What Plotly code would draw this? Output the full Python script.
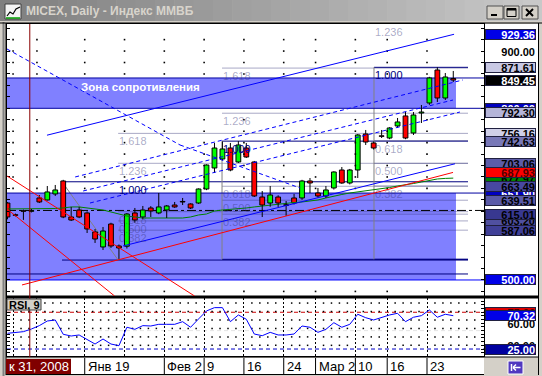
import plotly.graph_objects as go

W, H = 542, 376
FONT = "Liberation Sans"

# ---------------- data ----------------
dates = ["2008-12-26", "2008-12-29", "2008-12-30", "2008-12-31",
         "2009-01-11", "2009-01-12", "2009-01-13", "2009-01-14", "2009-01-15", "2009-01-16",
         "2009-01-19", "2009-01-20", "2009-01-21", "2009-01-22", "2009-01-23",
         "2009-01-26", "2009-01-27", "2009-01-28", "2009-01-29", "2009-01-30",
         "2009-02-02", "2009-02-03", "2009-02-04", "2009-02-05", "2009-02-06",
         "2009-02-09", "2009-02-10", "2009-02-11", "2009-02-12", "2009-02-13",
         "2009-02-16", "2009-02-17", "2009-02-18", "2009-02-19", "2009-02-20",
         "2009-02-24", "2009-02-25", "2009-02-26", "2009-02-27",
         "2009-03-02", "2009-03-03", "2009-03-04", "2009-03-05", "2009-03-06",
         "2009-03-10", "2009-03-11", "2009-03-12", "2009-03-13",
         "2009-03-16", "2009-03-17", "2009-03-18", "2009-03-19", "2009-03-20",
         "2009-03-23", "2009-03-24", "2009-03-25", "2009-03-26"]

opens = [634.5, 614, 621, 620, 643.3, 639.8, 650.3, 673, 610.1, 622.3,
         617.1, 583.9, 557.7, 597.8, 559.4, 559, 617.1, 610.1, 625.8, 617.1,
         622.3, 631, 636.5, 632.8, 634.5, 659, 695.7, 711.4, 730.6, 706.2,
         730.6, 706.2, 645, 634.5, 645, 631, 643.3, 643.3, 673, 652,
         646.8, 660.8, 692.2, 669.5, 692.2, 755.1, 739.4, 751.6, 748.1, 769.1,
         786.6, 756.9, 791.8, 809.3, 866.9, 818, 852]
highs = [636, 616, 623, 624, 648.5, 664.2, 666, 675, 627.6, 627.6,
         620, 589.1, 592.6, 600, 562, 617, 625.8, 629.3, 629, 652,
         631, 636.3, 643.3, 634, 660, 702, 739.4, 742, 739.4, 742.6,
         739.4, 708, 655.5, 664.2, 648, 638, 650.3, 675, 678.2, 660.8,
         664.2, 690, 697.4, 694, 755, 762.1, 742, 762.1, 767, 783.1,
         793.5, 793.5, 805.8, 855, 871.6, 861.7, 865.2]
lows = [606, 611, 605, 618, 634.5, 639, 646.8, 608, 603, 608,
        582.1, 564.7, 552.4, 556, 536.7, 555, 600, 606, 610.1, 615,
        608.3, 626, 631, 624, 633, 657, 687, 709, 690, 704.4,
        713.2, 645, 610, 628, 627.6, 612, 632, 640, 652, 644,
        643.3, 658, 668, 667, 678.2, 735.9, 728, 748.1, 746, 766,
        746, 753.4, 774.3, 806, 811, 814.5, 846]
closes = [610.1, 613, 620, 621, 636.3, 653.8, 657.3, 610.1, 604.8, 610.1,
          589.1, 571.6, 585.6, 559.4, 555.9, 615.3, 604.8, 622.3, 620.6, 627.6,
          629.3, 627.6, 636.3, 625.8, 659, 700.9, 730.6, 728.9, 692.2, 735.9,
          714.9, 646.8, 631, 648.5, 634.5, 630.5, 634.5, 673, 669.5, 646.8,
          657.3, 688.7, 669.5, 692.2, 753.4, 741.1, 730.6, 751, 765.6, 776.1,
          748.1, 788.3, 793.5, 853, 818, 854.7, 849.45]
ma_line = [624.1, 624.1, 624.1, 624.1, 624.1, 624.1, 624.9, 625.8, 627.6, 627.6,
           625.8, 624.1, 622.3, 618.8, 615.3, 611.8, 610.1, 608.3, 608.3, 608.3,
           608.3, 608.3, 608.3, 610.1, 613.6, 615.3, 620.6, 622.3, 623.2, 624.1,
           625.8, 627.6, 629.3, 631.0, 632.8, 634.5, 635.4, 636.3, 638.0, 639.8,
           643.3, 646.8, 649.4, 652.0, 653.8, 656.4, 658.1, 659.9, 661.6, 664.2,
           666.0, 668.6, 671.2, 673.9, 676.5, 677.5, 678.0]
rsi9 = [46.4, 47.7, 48.6, 52.2, 56.8, 63.1, 64.5, 45.0, 42.7, 44.1,
        38.2, 31.8, 38.6, 31.8, 29.5, 54.6, 51.8, 56.8, 56.3, 58.6,
        58.6, 58.6, 62.2, 54.6, 65.9, 76.8, 81.3, 81.3, 62.2, 71.3,
        65.5, 45.4, 43.1, 47.7, 44.1, 44.1, 45.4, 56.3, 54.6, 47.7,
        51.8, 60.8, 54.6, 58.6, 72.3, 67.6, 64.5, 68.2, 71.3, 73.6,
        62.2, 68.2, 70.4, 78.1, 68.2, 72.3, 70.32]

week_starts = [1, 4, 10, 15, 20, 25, 30, 35, 39, 44, 48, 53]
week_labels = ["", "", "Янв 19", "", "Фев 2", "9", "16", "24", "Мар 2", "10", "16", "23"]
cursor_bar = 3
cursor_label = "к 31, 2008"

zone_res = [800.0, 853.0]
zone_sup = [500.0, 651.9]
support_line = 510.5
dashdot_level = 621.5

fib_ratios = [0.0, 0.382, 0.5, 0.618, 1.0, 1.236, 1.618]
fib_low = [534.8, 536.1, 536.1]
fib_high = [671.6, 742.63, 871.61]
fib_bar = [13.9, 26.95, 46.04]
fib_hi_bar = [6.85, 26.95, 46.04]

# trend lines: start bar, start price, end bar, end price
tl_x0 = [4.96, 8.5, 9.5, 10.36, 14.51, 1.82, -0.06, -0.06, -0.06, 21.67]
tl_y0 = [753.0, 680.0, 655.5, 634.5, 559.4, 491.3, 681.7, 624.1, 903.6, 735.9]
tl_x1 = [56.1, 57.2, 55.97, 56.84, 56.22, 55.97, 23.5, 13.45, 21.67, 36.75]
tl_y1 = [929.36, 849.5, 814.5, 793.5, 703.06, 687.93, 472.0, 472.0, 735.9, 660.8]
tl_kind = ["blue", "bluedash", "bluedash", "bluedash", "blue", "red", "red", "red", "bluedash", "bluedash"]

price_labels = [651.90, 800.00, 677.97, 603.20, 756.16, 929.36, 900.00, 871.61, 849.45, 792.30,
                742.63, 703.06, 687.93, 663.49, 639.51, 615.01, 587.06, 500.00]
price_label_bg = ["#0000c0", "#0000c0", "#008000", "#5050a0", "#d0d0e8", "#0000e8", "#ffffff", "#c8c8e4",
                  "#000000", "#b4b4d8", "#7878b8", "#5c5ca8", "#ff0000", "#4848a0", "#5a5aa8", "#383890",
                  "#404098", "#0000e8"]
price_label_fg = ["#ffffff", "#ffffff", "#000000", "#000000", "#000000", "#ffffff", "#000000", "#000000",
                  "#ffffff", "#000000", "#000000", "#000000", "#500000", "#000000", "#000000", "#000000",
                  "#000000", "#ffffff"]
rsi_labels = [75.00, 60.00, 70.32, 30.00, 25.00]
rsi_label_bg = ["#e00000", "#ffffff", "#0000e8", "#ffffff", "#0000a0"]
rsi_label_fg = ["#500000", "#000000", "#ffffff", "#000000", "#ffffff"]
rsi_levels = [75, 50, 25]

# ---------------- geometry ----------------
XR = [-0.063, 59.86]
YR = [472.0, 947.3]
Y2R = [15.5, 94.4]


def px(x):
    return x / W


def py(y):
    return 1 - y / H


n = len(opens)
idx = list(range(n))

fig = go.Figure()

# grid dots main
week_x = [w - 0.3 for w in week_starts]
dot_x, dot_y = [], []
for gx in week_x:
    for r in range(480, 921, 20):
        if zone_sup[0] <= r <= zone_sup[1] or zone_res[0] <= r <= zone_res[1]:
            continue
        dot_x.append(gx)
        dot_y.append(r)
fig.add_trace(go.Scatter(x=dot_x, y=dot_y, mode="markers",
                         marker=dict(size=1.6, color="black", symbol="square"),
                         hoverinfo="skip", xaxis="x", yaxis="y"))

# MA line
fig.add_trace(go.Scatter(x=idx, y=ma_line, mode="lines", line=dict(color="#008000", width=1),
                         hoverinfo="skip", xaxis="x", yaxis="y"))

# candles
body_base = [min(o, c) for o, c in zip(opens, closes)]
body_h = [max(abs(c - o), 0.9) for o, c in zip(opens, closes)]
body_col = ["#00ff00" if c > o else "#ff0000" for o, c in zip(opens, closes)]
wx, wy = [], []
for i in idx:
    lo_b = body_base[i]
    hi_b = lo_b + body_h[i]
    wx += [i, i, None, i, i, None]
    wy += [lows[i], lo_b, None, hi_b, highs[i], None]
fig.add_trace(go.Scatter(x=wx, y=wy, mode="lines", line=dict(color="black", width=1),
                         hoverinfo="skip", xaxis="x", yaxis="y"))
fig.add_trace(go.Bar(x=idx, y=body_h, base=body_base, width=0.6,
                     marker=dict(color=body_col, line=dict(color="black", width=1)),
                     hoverinfo="skip", xaxis="x", yaxis="y"))

# RSI dots
rd_x, rd_y = [], []
for i in range(60):
    if i in week_starts:
        continue
    for r in [30, 41.5, 53, 64.5, 76, 87.5]:
        rd_x.append(i - 0.3)
        rd_y.append(r)
fig.add_trace(go.Scatter(x=rd_x, y=rd_y, mode="markers",
                         marker=dict(size=1.5, color="black", symbol="square"),
                         hoverinfo="skip", xaxis="x2", yaxis="y2"))
fig.add_trace(go.Scatter(x=idx, y=rsi9, mode="lines", line=dict(color="#0000ff", width=1),
                         hoverinfo="skip", xaxis="x2", yaxis="y2"))

shapes = []
ann = []


def seg(x0, y0, x1, y1, color, width=1, dash="solid", layer="below", xref="x", yref="y"):
    shapes.append(dict(type="line", x0=x0, y0=y0, x1=x1, y1=y1, xref=xref, yref=yref,
                       line=dict(color=color, width=width, dash=dash), layer=layer))


def prect(x0, y0, x1, y1, fill, line=None, lw=1, layer="below"):
    shapes.append(dict(type="rect", xref="paper", yref="paper", x0=px(x0), x1=px(x1),
                       y0=py(y1), y1=py(y0), fillcolor=fill,
                       line=dict(color=line or fill, width=lw if line else 0), layer=layer))


def pline(x0, y0, x1, y1, color, width=1, layer="below"):
    shapes.append(dict(type="line", xref="paper", yref="paper", x0=px(x0), x1=px(x1),
                       y0=py(y0), y1=py(y1), line=dict(color=color, width=width), layer=layer))


zone_end = 56.34
fib_end = 57.85
# zones
for z in (zone_res, zone_sup):
    shapes.append(dict(type="rect", xref="x", yref="y", x0=XR[0], x1=zone_end, y0=z[0], y1=z[1],
                       fillcolor="#8080ff", line=dict(width=0), layer="below"))

LIGHT = "rgba(50,50,120,0.42)"
NAVY = "#000080"
# fib levels
for k in range(3):
    lo, hi, fx, hx = fib_low[k], fib_high[k], fib_bar[k], fib_hi_bar[k]
    for r in fib_ratios:
        lev = lo + r * (hi - lo)
        if lev > YR[1] + 10:
            continue
        strong = r in (0.0, 1.0)
        start = hx if strong else fx
        seg(start, lev, fib_end, lev, NAVY if strong else LIGHT)
        if r > 0:
            ann.append(dict(x=fx, y=min(lev, YR[1]), xref="x", yref="y", text=f"{r:.3f}",
                            showarrow=False, xanchor="left", yanchor="top", yshift=-1, borderpad=0,
                            font=dict(family=FONT, size=11, color=NAVY if strong else LIGHT)))
    if hx == fx:
        seg(fx, lo, fx, hi, "#808080")
    else:
        seg(hx, hi, fx, lo, "#808080")

seg(XR[0], support_line, fib_end, support_line, NAVY)
for lev in (zone_res[1], zone_res[0], zone_sup[1]):
    seg(XR[0], lev, XR[1], lev, "#0000a0")
seg(XR[0], zone_sup[0], XR[1], zone_sup[0], "#0000ff")
seg(XR[0], dashdot_level, XR[1], dashdot_level, "black", dash="dashdot")

# trend lines
styles = {"blue": ("#0000ff", "solid"), "bluedash": ("#0000ff", "4px,3px"), "red": ("#ff0000", "solid")}
for x0, y0, x1, y1, kd in zip(tl_x0, tl_y0, tl_x1, tl_y1, tl_kind):
    c, d = styles[kd]
    seg(x0, y0, x1, y1, c, dash=d, layer="above")

# RSI levels
rsi_cols = {75: ("#cc0000", "4px,3px"), 50: ("#e4e4e4", "4px,3px"), 25: ("#0000cc", "4px,3px")}
for lv in rsi_levels:
    c, d = rsi_cols[lv]
    seg(XR[0], lv, XR[1], lv, c, dash=d, xref="x2", yref="y2")

# cursor line
shapes.append(dict(type="line", xref="x", yref="paper", x0=cursor_bar - 0.2, x1=cursor_bar - 0.2,
                   y0=py(357), y1=py(24), line=dict(color="#8b0000", width=1), layer="above"))

# ---- window decorations ----
steps = 28
for s in range(steps):
    t = s / (steps - 1)
    v = int(128 + t * (200 - 128))
    prect(s * W / steps, 0, (s + 1) * W / steps + 0.5, 21, f"rgb({v},{v},{v})")
prect(5, 4, 21, 19, "#f4f4f4", "#404040")
shapes.append(dict(type="path", xref="paper", yref="paper",
                   path="M {} {} L {} {} L {} {} L {} {} L {} {}".format(
                       px(7), py(16), px(10), py(12), px(13), py(14), px(16), py(9), px(20), py(7)),
                   line=dict(color="#000000", width=1.2), layer="below"))
pline(6, 18, 20, 18, "#00a000", 1.5)
for b in [(487, 6, 503, 19), (504, 6, 519, 19), (522, 6, 538, 19)]:
    prect(b[0], b[1], b[2], b[3], "#d4d0c8", "#505050")
prect(491, 14, 497, 16, "#000000")
prect(507, 8.5, 516, 16.5, "#d4d0c8", "#000000")
prect(507, 8.5, 516, 10.5, "#000000")
pline(526, 9, 533, 16, "#000000", 2)
pline(526, 16, 533, 9, "#000000", 2)

pline(3.5, 22, 3.5, 376, "#808080", 2)
pline(6, 23, 6, 375, "#000000", 1)
pline(0, 23, 542, 23, "#000000", 1)
prect(484, 24, 538, 357, "#ffffff")
pline(538.5, 23, 538.5, 375, "#000000", 1)
pline(6, 297, 538, 297, "#000000", 3)
pline(6, 357, 538, 357, "#000000", 1)
prect(71, 358, 484, 374, "#ffffff")
pline(6, 374.5, 484, 374.5, "#000000", 1)

# date row separators & labels
for w, lab in zip(week_starts, week_labels):
    if not lab:
        continue
    shapes.append(dict(type="line", xref="x2", yref="paper", x0=w - 0.3, x1=w - 0.3,
                       y0=py(374), y1=py(358), line=dict(color="black", width=1), layer="above"))
    ann.append(dict(x=w - 0.3, y=py(366.5), xref="x2", yref="paper", text=lab, showarrow=False,
                    xanchor="left", yanchor="middle", xshift=1, font=dict(family=FONT, size=13, color="black")))
prect(6, 359, 71, 374, "#800000", layer="above")
ann.append(dict(x=px(38.5), y=py(366.5), xref="paper", yref="paper", text=cursor_label, showarrow=False,
                xanchor="center", yanchor="middle", font=dict(family=FONT, size=13, color="white")))

# purple button
prect(508, 361, 523, 374, "#5038c0", "#ffffff")
pline(511.5, 364, 511.5, 371, "#ffffff", 1.5)
pline(513, 367.5, 520.5, 367.5, "#ffffff", 1.5)
pline(513, 367.5, 516, 364.5, "#ffffff", 1.5)
pline(513, 367.5, 516, 370.5, "#ffffff", 1.5)

# RSI caption box
prect(7, 299, 41, 310, "#d4d0c8", "#404040", layer="above")
ann.append(dict(x=px(24), y=py(304.5), xref="paper", yref="paper", text="RSI, 9", showarrow=False,
                xanchor="center", yanchor="middle",
                font=dict(family=FONT, size=11, color="black", weight="bold")))

# title
ann.append(dict(x=px(24), y=py(10.5), xref="paper", yref="paper", text="MICEX, Daily - Индекс ММВБ",
                showarrow=False, xanchor="left", yanchor="middle",
                font=dict(family=FONT, size=12, color="#d8d4cc", weight="bold")))

# zone caption
ann.append(dict(x=16.65, y=837, xref="x", yref="y", text="Зона сопротивления", showarrow=False,
                xanchor="center", yanchor="middle",
                font=dict(family=FONT, size=11.5, color="white", weight="bold")))

# price labels on the right
for v, bg, fg in zip(price_labels, price_label_bg, price_label_fg):
    ann.append(dict(x=px(485), y=v, xref="paper", yref="y", text=f"{v:.2f}", showarrow=False,
                    xanchor="left", yanchor="middle", width=49, height=9, align="right",
                    bgcolor=bg, bordercolor=("#ffffff" if bg == "#ffffff" else "#202040"),
                    borderwidth=1, borderpad=0,
                    font=dict(family=FONT, size=11, color=fg, weight="bold")))
for v, bg, fg in zip(rsi_labels, rsi_label_bg, rsi_label_fg):
    ann.append(dict(x=px(485), y=v, xref="paper", yref="y2", text=f"{v:.2f}", showarrow=False,
                    xanchor="left", yanchor="middle", width=49, height=9, align="right",
                    bgcolor=bg, bordercolor=("#ffffff" if bg == "#ffffff" else "#202040"),
                    borderwidth=1, borderpad=0,
                    font=dict(family=FONT, size=11, color=fg, weight="bold")))

axis_common = dict(showgrid=False, zeroline=False, showline=True, linecolor="black", linewidth=1)
fig.update_layout(
    width=W, height=H, margin=dict(l=0, r=0, t=0, b=0),
    paper_bgcolor="#d4d0c8", plot_bgcolor="white", showlegend=False,
    font=dict(family=FONT),
    barmode="overlay",
    xaxis=dict(domain=[px(7), px(484)], range=XR, anchor="y", showticklabels=False, ticks="",
               mirror=True, **axis_common),
    yaxis=dict(domain=[py(296), py(24)], range=YR, anchor="x", side="right", showticklabels=False,
               ticks="inside", ticklen=3, tickmode="linear", tick0=0, dtick=20, tickcolor="black",
               mirror="ticks", **axis_common),
    xaxis2=dict(domain=[px(7), px(484)], range=XR, anchor="y2", showticklabels=False, ticks="",
                mirror=True, zeroline=False, showline=True, linecolor="black",
                showgrid=True, gridcolor="black", griddash="2px,2px", gridwidth=1,
                tickmode="array", tickvals=week_x),
    yaxis2=dict(domain=[py(356), py(298)], range=Y2R, anchor="x2", side="right", showticklabels=False,
                ticks="inside", ticklen=3, tickmode="linear", tick0=0, dtick=5, tickcolor="black",
                mirror="ticks", **axis_common),
    shapes=shapes, annotations=ann,
)

fig.write_html("out.html", config={"displayModeBar": False},
               post_script="document.body.style.margin='0';document.body.style.padding='0';"
                           "document.body.style.overflow='hidden';")
